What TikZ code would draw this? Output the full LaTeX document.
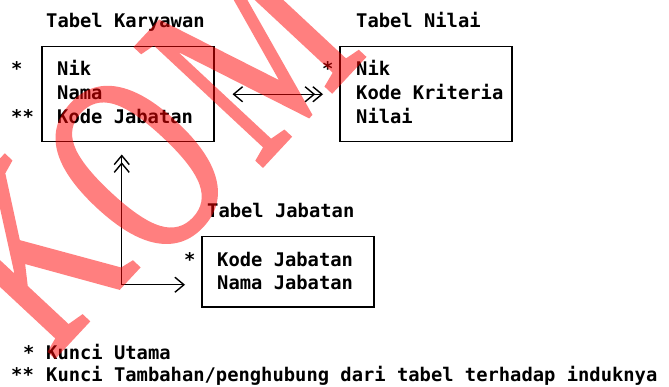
\documentclass[tikz,border=0pt]{standalone}
\usepackage{fontspec}
\usepackage{graphicx}
\usetikzlibrary{arrows.meta,calc}
\newfontfamily\dmono{DejaVu Sans Mono}
\newfontfamily\wmfont{Liberation Serif}[FakeBold=1.5]
\newcommand{\wmglyph}[1]{\scalebox{0.78}[1.15]{#1}}
\tikzset{
  barb/.tip={Straight Barb[length=9pt,width=15pt]},
  txt/.style={font=\dmono\bfseries\fontsize{18.8}{22}\selectfont, anchor=base west, inner sep=0pt},
  tbl/.style={draw, line width=1.5pt, anchor=north west, inner sep=0pt},
  conn/.style={line width=1.4pt},
  wm/.style={text=red, inner sep=0pt, anchor=center, rotate=47,
    font=\wmfont\fontsize{230}{230}\selectfont}
}
\begin{document}
\begin{tikzpicture}[x=1pt,y=-1pt]
\useasboundingbox (0,0) rectangle (669,387);
% tables
\node[tbl, minimum width=172pt, minimum height=95pt] (K) at (41,46) {};
\node[tbl, minimum width=172pt, minimum height=95pt] (N) at (339,46) {};
\node[tbl, minimum width=172pt, minimum height=70pt] (J) at (201,236) {};
% titles
\node[txt] (tk) at (46,28) {Tabel Karyawan};
\node[txt] (tn) at (356,28) {Tabel Nilai};
\node[txt] (tj) at (207,218) {Tabel Jabatan};
% Karyawan fields
\node[txt] (k1) at (57,76) {Nik};
\node[txt] (k2) at (57,100) {Nama};
\node[txt] (k3) at (57,124) {Kode Jabatan};
\node[txt] (ks1) at (11,76) {*};
\node[txt] (ks2) at (11,124) {**};
% Nilai fields
\node[txt] (n1) at (356,76) {Nik};
\node[txt] (n2) at (356,100) {Kode Kriteria};
\node[txt] (n3) at (356,124) {Nilai};
\node[txt] (ns1) at (322,76) {*};
% Jabatan fields
\node[txt] (j1) at (217,266) {Kode Jabatan};
\node[txt] (j2) at (217,290) {Nama Jabatan};
\node[txt] (js1) at (184,266) {*};
% legend
\node[txt] (l1s) at (23,359) {*};
\node[txt] (l1) at (46,359) {Kunci Utama};
\node[txt] (l2s) at (11,381) {**};
\node[txt] (l2) at (46,381) {Kunci Tambahan/penghubung dari tabel terhadap induknya};
% connectors
\draw[conn, {barb}-{barb[sep=-3pt]barb}, shorten <=18pt, shorten >=16pt] (K.east) -- (N.west);
\coordinate (jl) at ($(J.west)+(-16,13)$);
\coordinate (kb) at ($(K.south)+(-6,12)$);
\draw[conn, {barb}-{barb[sep=-3pt]barb}] (jl) -| (kb);
% watermark
\begin{scope}[transparency group, opacity=0.5]
\node[wm] (wk) at (32,254) {\wmglyph{K}};
\node[wm] (wo) at (137,165) {\wmglyph{O}};
\node[wm] (wmm) at (250,52) {\wmglyph{M}};
\end{scope}
\end{tikzpicture}
\end{document}
